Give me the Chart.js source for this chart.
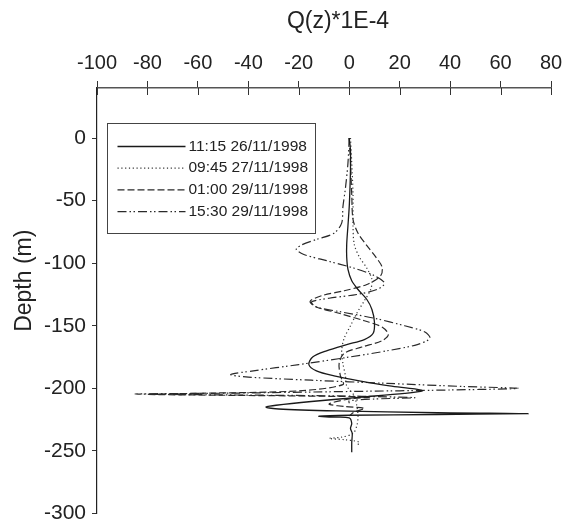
<!DOCTYPE html>
<html><head><meta charset="utf-8">
<script src="https://cdn.jsdelivr.net/npm/chart.js@4.4.1/dist/chart.umd.min.js"></script>
<style>html,body{margin:0;padding:0;background:#fff}</style>
</head><body>
<canvas id="c" width="581" height="530"></canvas>
<script>
// ---- data (Q(z)*1E-4 versus depth in metres) ----
const seriesLabels = ["11:15 26/11/1998", "09:45 27/11/1998", "01:00 29/11/1998", "15:30 29/11/1998"];

const q_1115 = [0, 0.5, 0.5, 0.3, 0, -0.5, -1, -1, -0.5, 1, 3.5, 7, 9, 10, 9.5, 6, -1, -9, -14.5, -16, -13, -6, 4, 16, 26, 29, 22, 5, -15, -29, -33, -28, -5, 35, 71, 35, 0, -12, -8, 0, 1, 0.5, 1.2, 1, 1];
const d_1115 = [0, -10, -25, -40, -55, -70, -85, -95, -105, -114, -121, -129, -137, -147, -156, -161, -165, -170, -175, -181, -186, -190, -194, -198, -200.5, -202, -204, -207, -210.5, -213.5, -215, -216.5, -218, -219.5, -220.2, -220.9, -221.5, -222.3, -223, -223.5, -228, -232, -236, -243, -251];

const q_0945 = [0.5, 1, 1.5, 1.5, 2, 4, 7, 9, 8.5, 6, 3, 0.5, -2, -3, -2.5, -1.5, -1, 2, 3, 3.5, 3, 1.5, -3, -8, -2, 4, 3];
const d_0945 = [0, -20, -45, -70, -85, -95, -104, -113, -121, -130, -140, -150, -160, -170, -180, -190, -198, -206, -214, -222, -230, -236, -239, -240, -241, -243, -246];

const q_0100 = [0, 0.5, 1, 1.5, 3.5, 7, 10.5, 13, 12.5, 7, -2, -11, -15.5, -13, -4, 6, 13, 15.5, 13, 5, -2, -4, -3.5, -2.5, -20, -60, -80, -50, -10, 8, 0, -8, -2, 6, 2, 0];
const d_0100 = [0, -20, -45, -65, -76, -86, -95, -103, -110, -117, -122, -126, -130.5, -135, -140, -146, -151, -157, -162, -167, -172, -180, -190, -197, -202, -204, -204.8, -205.5, -206.3, -207, -208.5, -212.5, -214.5, -216, -219, -222];

const q_1530 = [0, -0.5, -1.5, -2.5, -3, -6, -13, -19, -21, -18, -9, 2, 10, 14, 11, 3, -8, -15, -13, -3, 10, 22, 30, 32, 27, 15, 0, -20, -38, -47, -40, -15, 15, 45, 67, 40, 0, -45, -85, -45, -5, 15, 26, 10, 0, 0];
const d_1530 = [0, -20, -40, -55, -68, -76, -81, -85.5, -89, -93, -98, -104, -110, -116, -121, -125, -128, -131, -135, -139, -144, -150, -155, -160, -165, -170, -175, -181, -186, -189, -191, -193.5, -196, -198.5, -200, -201.3, -202.5, -203.8, -204.5, -205.3, -206, -206.8, -207.5, -208.5, -210, -212];

const xTicks = [-100, -80, -60, -40, -20, 0, 20, 40, 60, 80];
const yTicks = [0, -50, -100, -150, -200, -250, -300];
const xTitle = "Q(z)*1E-4";
const yTitle = "Depth (m)";

const FONT = '"Liberation Sans", Arial, Helvetica, sans-serif';
const pts = (q, d) => q.map((v, i) => ({x: v, y: d[i]}));

const styles = [
  {borderColor: '#1a1a1a', borderDash: [], borderWidth: 1.3},
  {borderColor: '#333333', borderDash: [1.2, 2.6], borderWidth: 1.2},
  {borderColor: '#2a2a2a', borderDash: [7, 3], borderWidth: 1.2},
  {borderColor: '#2a2a2a', borderDash: [9, 3, 1.5, 2.5, 1.5, 3], borderWidth: 1.2}
];
const pairs = [[q_1115, d_1115], [q_0945, d_0945], [q_0100, d_0100], [q_1530, d_1530]];
const datasets = pairs.map((p, i) => Object.assign({
  label: seriesLabels[i], data: pts(p[0], p[1]), fill: false, pointRadius: 0, tension: 0.3
}, styles[i]));

const inwardTicks = {
  id: 'inwardTicks',
  afterDraw(chart) {
    const s = chart.scales.x, ctx = chart.ctx;
    ctx.save(); ctx.strokeStyle = '#333'; ctx.lineWidth = 1;
    s.ticks.forEach((t, i) => {
      const px = Math.round(s.getPixelForTick(i)) + 0.5;
      ctx.beginPath(); ctx.moveTo(px, s.bottom); ctx.lineTo(px, s.bottom + 7); ctx.stroke();
    });
    ctx.restore();
  }
};

const titles = {
  id: 'titles',
  afterDraw(chart) {
    const ctx = chart.ctx, a = chart.chartArea;
    ctx.save();
    ctx.fillStyle = '#222';
    ctx.font = '23px ' + FONT;
    ctx.textAlign = 'center'; ctx.textBaseline = 'middle';
    ctx.fillText(xTitle, (a.left + a.right) / 2 + 14, 22);
    ctx.translate(25, (a.top + a.bottom) / 2 - 20);
    ctx.rotate(-Math.PI / 2);
    ctx.fillText(yTitle, 0, 0);
    ctx.restore();
  }
};

const boxLegend = {
  id: 'boxLegend',
  afterDraw(chart) {
    const ctx = chart.ctx, a = chart.chartArea;
    const x0 = Math.round(a.left + 10) + 0.5, y0 = Math.round(a.top + 35) + 0.5, w = 208, h = 110;
    ctx.save();
    ctx.strokeStyle = '#444'; ctx.lineWidth = 1;
    ctx.strokeRect(x0, y0, w, h);
    ctx.font = '15.5px ' + FONT;
    ctx.fillStyle = '#222'; ctx.textBaseline = 'middle'; ctx.textAlign = 'left';
    chart.data.datasets.forEach((ds, i) => {
      const y = y0 + 23 + i * 21.7;
      ctx.beginPath();
      ctx.setLineDash(ds.borderDash || []);
      ctx.strokeStyle = ds.borderColor; ctx.lineWidth = ds.borderWidth;
      ctx.moveTo(x0 + 10, y); ctx.lineTo(x0 + 78, y); ctx.stroke();
      ctx.setLineDash([]);
      ctx.fillText(ds.label, x0 + 81, y);
    });
    ctx.restore();
  }
};

new Chart(document.getElementById('c'), {
  type: 'line',
  data: {datasets},
  options: {
    responsive: false,
    animation: false,
    devicePixelRatio: 1,
    layout: {padding: {left: 0, right: 30, top: 0, bottom: 8}},
    plugins: {legend: {display: false}, tooltip: {enabled: false}},
    elements: {point: {radius: 0}},
    scales: {
      x: {
        type: 'linear', position: 'top', min: -100, max: 80,
        afterBuildTicks(s) { s.ticks = xTicks.map(v => ({value: v})); },
        ticks: {color: '#222', font: {size: 20, family: FONT, lineHeight: 1}, padding: 8, maxRotation: 0, autoSkip: false},
        grid: {drawOnChartArea: false, tickLength: 7, color: '#333'},
        border: {color: '#555', width: 1.5},
        afterFit(s) { s.height = 88; }
      },
      y: {
        type: 'linear', min: -300, max: 40,
        afterBuildTicks(s) { s.ticks = yTicks.map(v => ({value: v})); },
        ticks: {color: '#222', font: {size: 21, family: FONT, lineHeight: 1}, padding: 6, autoSkip: false},
        grid: {drawOnChartArea: false, tickLength: 5, color: '#333'},
        border: {color: '#222', width: 1.2},
        afterFit(s) { s.width = 97; }
      }
    }
  },
  plugins: [inwardTicks, titles, boxLegend]
});
</script>
</body></html>
